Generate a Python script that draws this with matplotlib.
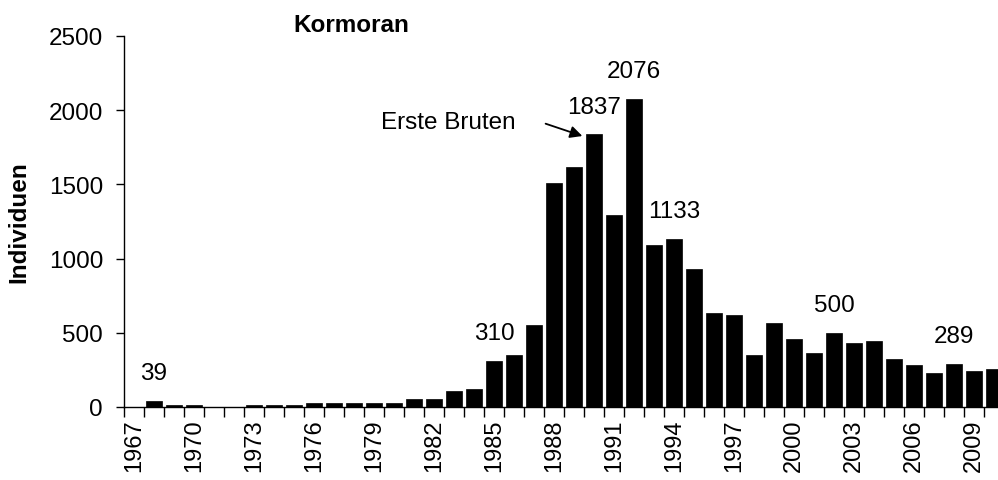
import matplotlib
matplotlib.use("Agg")
import matplotlib.pyplot as plt
import numpy as np

plt.rcParams['font.family'] = ['Liberation Sans', 'DejaVu Sans']

years = list(range(1967, 2011))
values = [0, 39, 15, 15, 0, 0, 12, 12, 12, 28,
          28, 28, 28, 28, 55, 55, 106, 121, 310, 350,
          552, 1507, 1617, 1837, 1294, 2076, 1090, 1133, 930, 633,
          620, 348, 566, 456, 364, 500, 429, 445, 321, 281,
          227, 289, 240, 256]
labelled_years = [1968, 1985, 1990, 1992, 1994, 2002, 2008]
tick_years = list(range(1967, 2011, 3))
yticks = [0, 500, 1000, 1500, 2000, 2500]

FS = 17.5

fig = plt.figure(figsize=(9.98, 4.81), dpi=100)
ax = fig.add_axes([0.1242, 0.1518, 0.8818, 0.7713])

x = np.arange(len(years))
ax.bar(x, values, width=0.78, color='black', edgecolor='black', linewidth=0.5)

ax.set_xlim(-0.5, len(years) - 0.5)
ax.set_ylim(0, 2500)
ax.set_yticks(yticks)
ax.set_yticklabels([str(v) for v in yticks], fontsize=FS)

# category boundaries as tick marks, labels at centres
ax.set_xticks(np.arange(len(years) + 1) - 0.5, minor=True)
ax.set_xticks([years.index(y) for y in tick_years])
ax.set_xticklabels([str(y) for y in tick_years], rotation=90, fontsize=17)
ax.tick_params(axis='x', which='major', length=0, pad=8)
ax.tick_params(axis='x', which='minor', length=7, width=1, direction='out')
ax.tick_params(axis='y', length=6, width=1, direction='out', pad=9)

for s in ['top', 'right']:
    ax.spines[s].set_visible(False)
ax.spines['left'].set_linewidth(1)
ax.spines['bottom'].set_linewidth(1)

ax.set_ylabel('Individuen', fontsize=FS, fontweight='bold')
ax.yaxis.set_label_coords(-0.106, 0.501)

for yr in labelled_years:
    i = years.index(yr)
    ax.annotate(str(values[i]), xy=(i, values[i]), xytext=(0, 20),
                textcoords='offset points', ha='center', va='center', fontsize=FS)

fig.text(0.352, 0.933, 'Kormoran', ha='center', va='baseline',
         fontsize=FS, fontweight='bold')

ax.annotate('', xy=(22.55, 1820), xytext=(20.45, 1915),
            arrowprops=dict(arrowstyle='-|>', color='black', lw=1.3, mutation_scale=18))
ax.text(19.1, 1920, 'Erste Bruten', ha='right', va='center', fontsize=FS)

fig.savefig('out.png', dpi=100)
